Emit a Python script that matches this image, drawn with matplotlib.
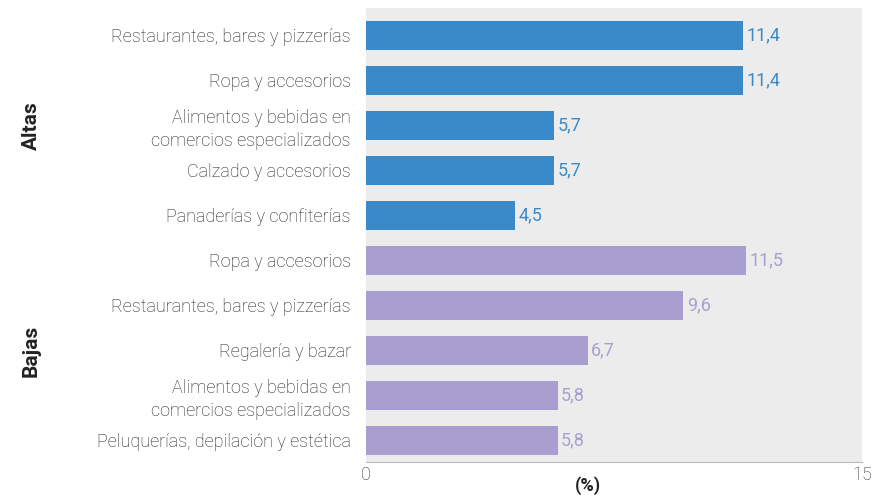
import numpy as np
import matplotlib.pyplot as plt

# data
altas_labels = ["Restaurantes, bares y pizzerías", "Ropa y accesorios",
                "Alimentos y bebidas en\ncomercios especializados",
                "Calzado y accesorios", "Panaderías y confiterías"]
altas_values = [11.4, 11.4, 5.7, 5.7, 4.5]

bajas_labels = ["Ropa y accesorios", "Restaurantes, bares y pizzerías",
                "Regalería y bazar",
                "Alimentos y bebidas en\ncomercios especializados",
                "Peluquerías, depilación y estética"]
bajas_values = [11.5, 9.6, 6.7, 5.8, 5.8]

groups = ["Altas", "Bajas"]
x_ticks = [0, 15]

blue = "#3a89c9"
purple = "#a89fd0"
plt.rcParams['font.family'] = ['Roboto', 'DejaVu Sans']

fig = plt.figure(figsize=(8.84, 4.98), dpi=100)
ax = fig.add_axes([366 / 884, 1 - 462 / 498, 496 / 884, 454 / 498])
ax.set_facecolor("#ececec")

labels = altas_labels + bajas_labels
values = altas_values + bajas_values
colors = [blue] * len(altas_values) + [purple] * len(bajas_values)
y = np.arange(len(values))

ax.barh(y, values, height=0.64, color=colors)
for yi, v, c in zip(y, values, colors):
    ax.text(v + 0.1, yi, f"{v:.1f}".replace(".", ","), va="center", ha="left",
            color=c, fontsize=13)

ax.set_xlim(0, 15)
ax.set_ylim(9.48, -0.61)
ax.set_yticks(y)
ax.set_yticklabels(labels, fontsize=13, color="#222222", linespacing=1.3,
                   fontweight="light")
ax.set_xticks(x_ticks)
ax.set_xticklabels([str(t) for t in x_ticks], fontsize=13, color="#333333",
                   fontweight="light")
ax.tick_params(length=0, axis="y", pad=11)
ax.tick_params(length=0, axis="x", pad=3)
for s in ["top", "right", "left"]:
    ax.spines[s].set_visible(False)
ax.spines["bottom"].set_color("#bbbbbb")

# axis unit label
fig.text(588 / 884, 1 - 486 / 498, "(%)", ha="center", va="center",
         fontsize=13, fontweight="bold", color="#222222")

# group labels
n_a = len(altas_values)
for name, center in [(groups[0], (n_a - 1) / 2), (groups[1], n_a + (len(bajas_values) - 1) / 2)]:
    ypix = ax.transData.transform((0, center))[1]
    fig.text(31 / 884, ypix / fig.dpi / fig.get_figheight(), name, rotation=90,
             ha="center", va="center", fontsize=15, fontweight="bold", color="#222222")

fig.savefig("out.png", dpi=100)
